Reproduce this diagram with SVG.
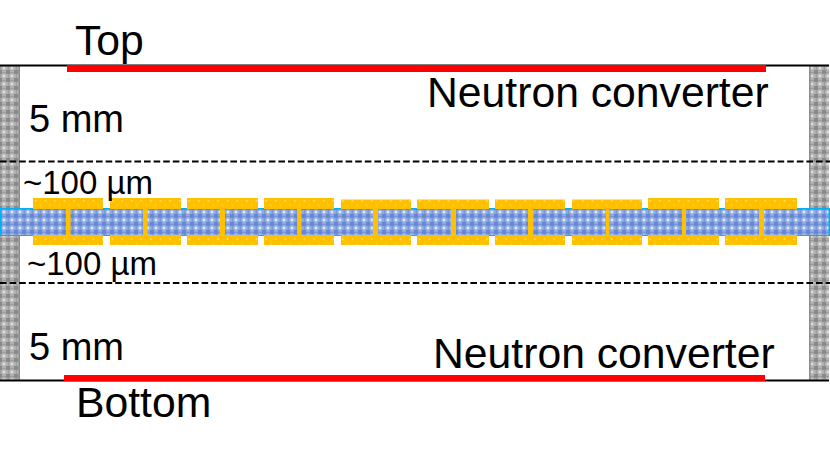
<svg xmlns="http://www.w3.org/2000/svg" width="830" height="453" viewBox="0 0 830 453">
<style>
text{font-family:"Liberation Sans",Arial,sans-serif;fill:#000}
.big{font-size:42.7px}.mid{font-size:38px}.sm{font-size:33px}
.dash{stroke:#000;stroke-width:2;stroke-dasharray:6.6 3;fill:none}
.line{stroke:#000;stroke-width:2;fill:none}
.red{fill:#f00}
.pad{fill:url(#gold)}
.conn{fill:#ffc000}
</style>
<defs>
<pattern id="gray" width="8" height="8" patternUnits="userSpaceOnUse">
<rect width="8" height="8" fill="#b0b0b0"/>
<rect x="0" y="0" width="2" height="2" fill="#8a8a8a"/>
<rect x="2" y="0" width="4" height="1" fill="#9c9c9c"/>
<rect x="0" y="2" width="1" height="4" fill="#9c9c9c"/>
<rect x="6" y="0" width="2" height="2" fill="#8a8a8a"/>
<rect x="0" y="6" width="2" height="2" fill="#8a8a8a"/>
<rect x="6" y="6" width="2" height="2" fill="#8a8a8a"/>
<rect x="3.2" y="2.5" width="1.6" height="3" fill="#dedede"/>
<rect x="2.5" y="3.2" width="3" height="1.6" fill="#dedede"/>
</pattern>
<pattern id="blue" width="8" height="8" patternUnits="userSpaceOnUse">
<rect width="8" height="8" fill="#8fa9e0"/>
<rect x="0" y="0" width="2" height="2" fill="#6488d4"/>
<rect x="2" y="0" width="4" height="1" fill="#7a97da"/>
<rect x="0" y="2" width="1" height="4" fill="#7a97da"/>
<rect x="6" y="0" width="2" height="2" fill="#6488d4"/>
<rect x="0" y="6" width="2" height="2" fill="#6488d4"/>
<rect x="6" y="6" width="2" height="2" fill="#6488d4"/>
<rect x="3.2" y="2.5" width="1.6" height="3" fill="#dfe7f7"/>
<rect x="2.5" y="3.2" width="3" height="1.6" fill="#dfe7f7"/>
</pattern>
<pattern id="gold" x="33" y="198" width="9.6" height="9.6" patternUnits="userSpaceOnUse">
<rect width="9.6" height="9.6" fill="#ffc000"/>
<rect x="2" y="2.2" width="1.3" height="1.3" fill="#fff0c0"/>
<rect x="6.8" y="7" width="1.2" height="1.2" fill="#ffd966"/>
</pattern>
</defs>
<g id="side-walls">
<rect x="0" y="65" width="20" height="315" fill="url(#gray)"/>
<rect x="18.5" y="65" width="1.5" height="315" fill="#8c8c8c"/>
<rect x="809" y="65" width="20" height="315" fill="url(#gray)"/>
<rect x="809" y="65" width="1.5" height="315" fill="#8c8c8c"/>
</g>
<g id="boundaries">
<path class="line" d="M0 65.5H829M0 380.5H829"/>
<path class="dash" d="M0 161.5H830M0 283H830"/>
</g>
<g id="converters">
<rect class="red" x="67" y="65" width="699" height="7"/>
<rect class="red" x="64" y="375" width="701" height="6"/>
</g>
<g id="detector">
<rect x="0" y="208" width="830" height="28" fill="#00b0f0"/>
<rect x="1.5" y="209.5" width="827" height="25.5" fill="url(#blue)"/>
<g class="conn">
<rect x="66" y="205" width="4.6" height="34"/><rect x="143" y="205" width="4.6" height="34"/><rect x="220" y="205" width="5" height="34"/><rect x="297" y="205" width="4" height="34"/><rect x="373" y="205" width="5" height="34"/><rect x="451" y="205" width="5" height="34"/><rect x="528" y="205" width="5" height="34"/><rect x="606" y="205" width="3.5" height="34"/><rect x="682" y="205" width="4" height="34"/><rect x="759" y="205" width="5" height="34"/>
</g>
<g class="pad">
<rect x="33" y="198" width="70" height="11"/><rect x="110" y="198" width="71" height="11"/><rect x="187" y="198" width="71" height="11"/><rect x="264" y="198" width="70" height="11"/><rect x="341" y="199.5" width="70" height="9.5"/><rect x="417" y="199.5" width="72" height="9.5"/><rect x="495" y="199.5" width="70" height="9.5"/><rect x="572" y="199.5" width="70" height="9.5"/><rect x="648" y="198" width="71" height="11"/><rect x="725" y="198" width="72" height="11"/>
<rect x="33" y="235" width="70" height="10"/><rect x="110" y="235" width="71" height="10"/><rect x="187" y="235" width="71" height="10"/><rect x="264" y="235" width="70" height="10"/><rect x="341" y="235" width="70" height="10"/><rect x="417" y="235" width="72" height="10"/><rect x="495" y="235" width="70" height="10"/><rect x="572" y="235" width="70" height="10"/><rect x="648" y="235" width="71" height="10"/><rect x="725" y="235" width="72" height="10"/>
</g>
</g>
<g id="labels">
<text class="big" x="75" y="55">Top</text>
<text class="big" x="76" y="417">Bottom</text>
<text class="big" x="427" y="107">Neutron converter</text>
<text class="big" x="433" y="368">Neutron converter</text>
<text class="mid" x="29" y="132">5 mm</text>
<text class="mid" x="29" y="360">5 mm</text>
<text class="sm" x="23" y="194">~100 µm</text>
<text class="sm" x="27" y="275">~100 µm</text>
</g>
</svg>
